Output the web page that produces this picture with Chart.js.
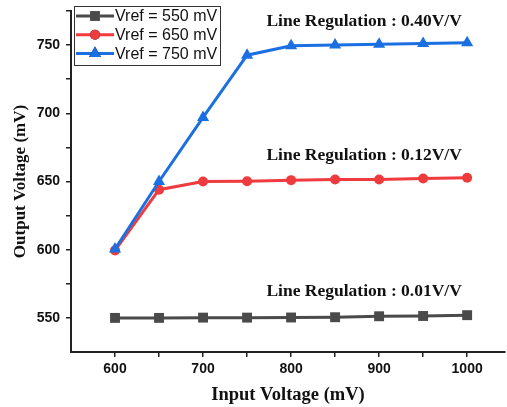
<!DOCTYPE html>
<html>
<head>
<meta charset="utf-8">
<script src="https://cdn.jsdelivr.net/npm/chart.js@4.4.1/dist/chart.umd.min.js"></script>
<style>
    html, body { margin: 0; padding: 0; background: #fff; overflow: hidden; }
    #wrap { width: 507px; height: 407px; position: relative; }
    #line_reg_chart { display: block; }
</style>
</head>
<body>
<div id="wrap"><canvas id="line_reg_chart"></canvas></div>
<script>
// data
const inputVoltage = [600, 650, 700, 750, 800, 850, 900, 950, 1000];
const vref550 = [550, 550, 550.2, 550.2, 550.3, 550.5, 551.2, 551.4, 552];
const vref650 = [599.5, 644, 650, 650.2, 651, 651.5, 651.5, 652.2, 652.7];
const vref750 = [600.5, 650, 697, 742.6, 749.5, 750, 750.7, 751.2, 751.7];
const seriesNames = ["Vref = 550 mV", "Vref = 650 mV", "Vref = 750 mV"];

const xTickValues = [600, 650, 700, 750, 800, 850, 900, 950, 1000];
const xTickLabels = [600, 700, 800, 900, 1000];
const yTickValues = [550, 575, 600, 625, 650, 675, 700, 725, 750, 775];
const yTickLabels = [550, 600, 650, 700, 750];

const regulationTexts = [
    "Line Regulation : 0.40V/V",
    "Line Regulation : 0.12V/V",
    "Line Regulation : 0.01V/V",
];
const regulationAnchorX = [883, 883, 883];
const regulationAnchorY = [767, 669, 569];

const toPoints = (ys) => inputVoltage.map((x, i) => ({ x: x, y: ys[i] }));

// boxed legend drawn inside the plot, top left
const boxLegend = {
    id: "boxLegend",
    afterDatasetsDraw(chart) {
        const ctx = chart.ctx;
        const left = chart.chartArea.left + 3;
        const top = 6;
        ctx.save();
        ctx.fillStyle = "#fff";
        ctx.strokeStyle = "#333";
        ctx.lineWidth = 1;
        ctx.fillRect(left, top, 146, 59);
        ctx.strokeRect(left + 0.5, top + 0.5, 146, 59);
        chart.data.datasets.forEach((ds, i) => {
            const y = top + 10 + i * 18.7;
            ctx.strokeStyle = ds.borderColor;
            ctx.lineWidth = ds.borderWidth;
            ctx.beginPath();
            ctx.moveTo(left + 2, y);
            ctx.lineTo(left + 40, y);
            ctx.stroke();
            Chart.helpers.drawPoint(ctx, {
                pointStyle: ds.pointStyle,
                radius: ds.pointRadius,
                borderWidth: 0,
                rotation: 0,
            }, left + 21, y);
            ctx.fillStyle = ds.pointBackgroundColor;
            ctx.fill();
            ctx.fillStyle = "#111";
            ctx.font = "16px 'Liberation Sans', Arial, sans-serif";
            ctx.textBaseline = "middle";
            ctx.textAlign = "left";
            ctx.fillText(ds.label, left + 41, y + 1);
        });
        ctx.restore();
    },
};

const regulationLabels = {
    id: "regulationLabels",
    afterDatasetsDraw(chart) {
        const ctx = chart.ctx;
        const xs = chart.scales.x;
        const ys = chart.scales.y;
        ctx.save();
        ctx.fillStyle = "#111";
        ctx.font = "bold 17.5px 'Liberation Serif', 'Times New Roman', serif";
        ctx.textAlign = "center";
        ctx.textBaseline = "middle";
        regulationTexts.forEach((t, i) => {
            ctx.fillText(t, xs.getPixelForValue(regulationAnchorX[i]), ys.getPixelForValue(regulationAnchorY[i]));
        });
        ctx.restore();
    },
};

const tickFont = { family: "'Liberation Sans', Arial, sans-serif", size: 14, weight: "bold" };
const titleFont = { family: "'Liberation Serif', 'Times New Roman', serif", size: 17, weight: "bold" };

new Chart(document.getElementById("line_reg_chart"), {
    type: "line",
    data: {
        datasets: [
            {
                label: seriesNames[0],
                data: toPoints(vref550),
                borderColor: "#4a4a4a",
                backgroundColor: "#4a4a4a",
                pointBackgroundColor: "#4a4a4a",
                pointBorderWidth: 0,
                pointStyle: "rect",
                pointRadius: 7,
                borderWidth: 3,
                tension: 0,
                order: 2,
            },
            {
                label: seriesNames[1],
                data: toPoints(vref650),
                borderColor: "#ef3b3e",
                backgroundColor: "#ef3b3e",
                pointBackgroundColor: "#ef3b3e",
                pointBorderWidth: 0,
                pointStyle: "circle",
                pointRadius: 5,
                borderWidth: 3,
                tension: 0,
                order: 1,
            },
            {
                label: seriesNames[2],
                data: toPoints(vref750),
                borderColor: "#1c6fe0",
                backgroundColor: "#1c6fe0",
                pointBackgroundColor: "#1c6fe0",
                pointBorderWidth: 0,
                pointStyle: "triangle",
                pointRadius: 7,
                borderWidth: 3,
                tension: 0,
                order: 0,
            },
        ],
    },
    options: {
        responsive: true,
        maintainAspectRatio: false,
        animation: false,
        layout: {
            autoPadding: false,
            padding: { left: 0, top: 11, right: 2, bottom: 0 },
        },
        plugins: {
            legend: { display: false },
            tooltip: { enabled: false },
        },
        scales: {
            x: {
                type: "linear",
                min: 550,
                max: 1043,
                afterBuildTicks: (axis) => {
                    axis.ticks = xTickValues.map((v) => ({ value: v }));
                },
                afterFit: (axis) => {
                    axis.height = 55;
                    axis.paddingLeft = 0;
                    axis.paddingRight = 0;
                },
                ticks: {
                    color: "#111",
                    font: tickFont,
                    padding: 4,
                    maxRotation: 0,
                    callback: (v) => (xTickLabels.includes(v) ? String(v) : ""),
                },
                grid: {
                    drawOnChartArea: false,
                    drawTicks: true,
                    tickLength: 5,
                    color: "#222",
                    lineWidth: 1.5,
                },
                border: { display: true, color: "#222", width: 2 },
                title: {
                    display: true,
                    text: "Input Voltage (mV)",
                    color: "#111",
                    font: { ...titleFont, size: 18.5 },
                    padding: { top: 0, bottom: 1 },
                },
            },
            y: {
                type: "linear",
                min: 525,
                max: 775,
                afterBuildTicks: (axis) => {
                    axis.ticks = yTickValues.map((v) => ({ value: v }));
                },
                afterFit: (axis) => {
                    axis.width = 71;
                    axis.paddingTop = 0;
                    axis.paddingBottom = 0;
                },
                ticks: {
                    color: "#111",
                    font: tickFont,
                    padding: 6,
                    callback: (v) => (yTickLabels.includes(v) ? String(v) : ""),
                },
                grid: {
                    drawOnChartArea: false,
                    drawTicks: true,
                    tickLength: 5,
                    color: "#222",
                    lineWidth: 1.5,
                },
                border: { display: true, color: "#222", width: 2 },
                title: {
                    display: true,
                    text: "Output Voltage (mV)",
                    color: "#111",
                    font: titleFont,
                    padding: { top: 10, bottom: 0 },
                },
            },
        },
    },
    plugins: [regulationLabels, boxLegend],
});
</script>
</body>
</html>
